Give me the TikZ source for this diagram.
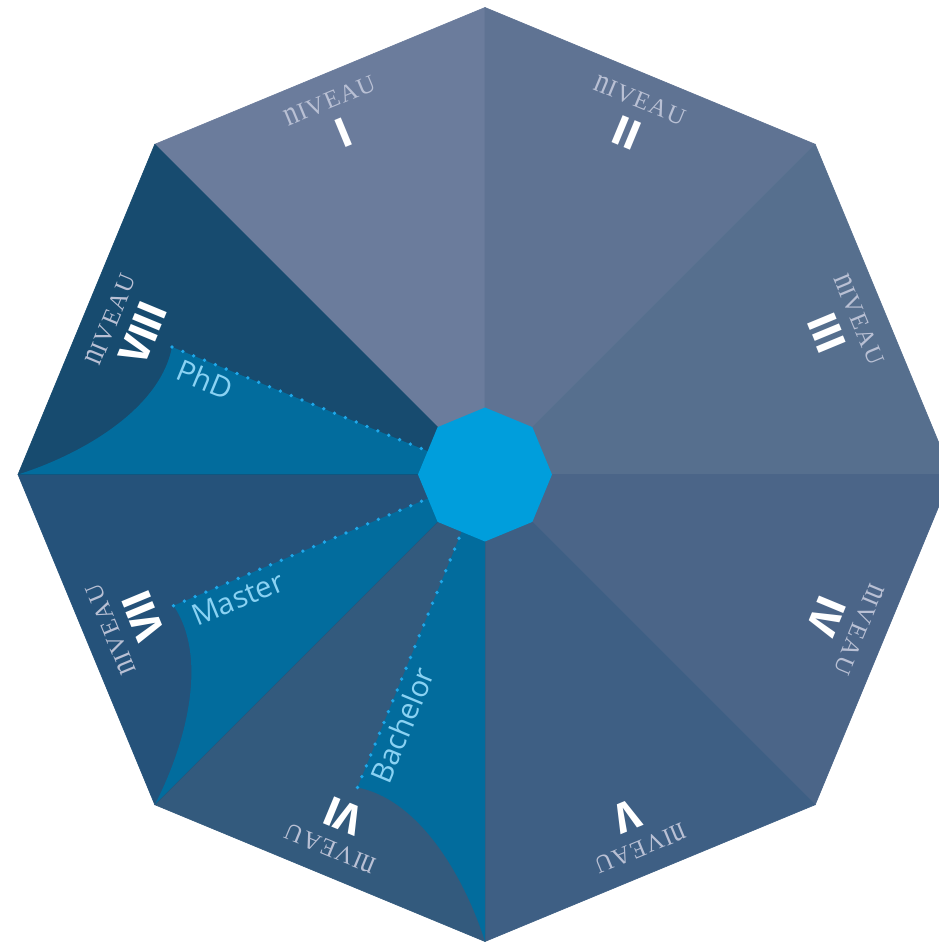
\documentclass[tikz,border=0pt]{standalone}
\usepackage{fontspec}
\usepackage{xcolor}
\usepackage{tikz}
\setmainfont{Liberation Serif}
\newfontfamily\progfont{Open Sans}
\newfontfamily\numfont{Fira Sans}
\definecolor{nqfsec1}{RGB}{107,124,156}
\definecolor{nqfsec2}{RGB}{95,115,147}
\definecolor{nqfsec3}{RGB}{86,111,142}
\definecolor{nqfsec4}{RGB}{75,101,136}
\definecolor{nqfsec5}{RGB}{62,95,132}
\definecolor{nqfsec6}{RGB}{51,90,125}
\definecolor{nqfsec7}{RGB}{37,82,122}
\definecolor{nqfsec8}{RGB}{23,75,111}
\definecolor{nqfprog}{RGB}{2,108,157}
\definecolor{nqfhub}{RGB}{0,158,220}
\definecolor{nqfdot}{RGB}{30,168,234}
\definecolor{nqflabel}{RGB}{138,210,243}
\definecolor{nqfniveau}{RGB}{185,192,212}
\newcommand{\niveauword}{{\addfontfeature{LetterSpace=6}\scalebox{1.12}[1.42]{n}IVEAU}}

\begin{document}
\begin{tikzpicture}[x=1pt, y=1pt, line join=round,
    niveautext/.style={text=nqfniveau, inner sep=0pt, font=\fontsize{24.5}{26}\selectfont},
    numeraltext/.style={text=white, inner sep=0pt, font=\numfont\bfseries\fontsize{42}{44}\selectfont},
    progtext/.style={text=nqflabel, inner sep=0pt, anchor=base west, font=\progfont\fontsize{29.5}{32}\selectfont},
    dotline/.style={nqfdot, line width=3.8pt, line cap=round, dash pattern=on 0pt off 11.7pt}]
  \path[use as bounding box] (-485,-467.5) rectangle (454,474.5); % canvas = page, right tip cut off
  % eight wedges of the octagon, level I top left, then clockwise
  \foreach \k in {1,...,8}
    \filldraw[nqfsec\k, line width=0.6pt] (0,0) -- ({180-45*\k}:467) -- ({135-45*\k}:467) -- cycle;

  % programme bands, one shape turned by 45 degrees each time
  \foreach \rot/\prog/\pname in {0/PhD/phd, 45/Master/master, 90/Bachelor/bachelor} {
    \begin{scope}[rotate=\rot]
      \fill[nqfprog] (0,0) -- (-313,127.5) .. controls (-325,64.5) and (-405,19.5) .. (-467,0) -- cycle;
      \draw[dotline] (-313,127.5) -- (0,0);
      \node[progtext, rotate=\rot-22.5] (\pname) at (-311,96) {\prog};
    \end{scope}
  }

  % level names along the rim
  \foreach \k/\num in {1/I,2/II,3/III,4/IV,5/V,6/VI,7/VII,8/VIII} {
    \node[niveautext, rotate={67.5-45*\k}] (niv\k) at ({157.5-45*\k}:405) {\niveauword};
    \node[numeraltext, rotate={67.5-45*\k}] (lvl\k) at ({157.5-45*\k}:370) {\num};
  }

  % hub
  \fill[nqfhub] (0:67) \foreach \a in {45,90,...,315} { -- (\a:67) } -- cycle;
\end{tikzpicture}
\end{document}
